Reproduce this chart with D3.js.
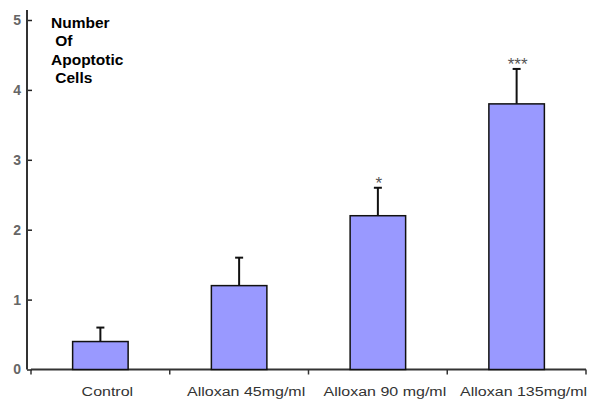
<!DOCTYPE html>
<html>
<head>
<meta charset="utf-8">
<script src="https://cdn.jsdelivr.net/npm/d3@7"></script>
<style>
  body { margin: 0; background: #fff; }
  text { font-family: Arial, "Liberation Sans", sans-serif; }
</style>
</head>
<body>
<div id="chart"></div>
<script>
// Apoptotic cells by alloxan dose
const categories = ["Control", "Alloxan 45mg/ml", "Alloxan 90 mg/ml", "Alloxan 135mg/ml"];
const means = [0.4, 1.2, 2.2, 3.8];
const errors = [0.2, 0.4, 0.4, 0.5];
const marks = ["", "", "*", "***"];
const yTicks = [0, 1, 2, 3, 4, 5];
const titleLines = ["Number", " Of", "Apoptotic", " Cells"];

const width = 605;
const height = 403;

const svg = d3.select("#chart").append("svg")
    .attr("width", width)
    .attr("height", height);

const x = d3.scaleBand()
    .domain(categories)
    .range([31, 586])
    .paddingInner(0.6)
    .paddingOuter(0.3);

const y = d3.scaleLinear()
    .domain([0, 5])
    .range([369.5, 20]);

// y axis, ticks point inward
const yAxis = svg.append("g")
    .attr("transform", "translate(27,0)")
    .call(d3.axisLeft(y).tickValues(yTicks).tickFormat(d3.format("d")).tickSize(-5).tickPadding(6));

yAxis.select(".domain").remove();
yAxis.selectAll(".tick line").attr("stroke", "#222").attr("stroke-width", 1.5);
yAxis.selectAll(".tick text")
    .attr("fill", "#666")
    .style("font-size", "14px")
    .style("font-weight", "bold");

svg.append("line")
    .attr("x1", 27).attr("x2", 27)
    .attr("y1", y(5) - 10).attr("y2", y(0))
    .attr("stroke", "#333")
    .attr("stroke-width", 2);

// x axis with ticks at band edges
const edges = d3.range(categories.length + 1).map(i => x.range()[0] + i * x.step());

svg.append("line")
    .attr("x1", edges[0]).attr("x2", edges[edges.length - 1])
    .attr("y1", y(0)).attr("y2", y(0))
    .attr("stroke", "#333")
    .attr("stroke-width", 2);

svg.selectAll("line.xtick")
    .data(edges)
    .join("line")
    .attr("class", "xtick")
    .attr("x1", d => d).attr("x2", d => d)
    .attr("y1", y(0)).attr("y2", y(0) + 5)
    .attr("stroke", "#333")
    .attr("stroke-width", 1.5);

svg.selectAll("text.xlabel")
    .data(categories)
    .join("text")
    .attr("class", "xlabel")
    .attr("transform", d => `translate(${x(d) + x.bandwidth() / 2 + 7},396) scale(1.28,1)`)
    .attr("text-anchor", "middle")
    .attr("fill", "#333")
    .style("font-size", "12.5px")
    .text(d => d);

// error bars (drawn first so bar outline sits on top)
const data = categories.map((c, i) => ({ c, m: means[i], e: errors[i], mark: marks[i] }));

svg.selectAll("line.err")
    .data(data)
    .join("line")
    .attr("class", "err")
    .attr("x1", d => x(d.c) + x.bandwidth() / 2)
    .attr("x2", d => x(d.c) + x.bandwidth() / 2)
    .attr("y1", d => y(d.m))
    .attr("y2", d => y(d.m + d.e))
    .attr("stroke", "#111")
    .attr("stroke-width", 2);

svg.selectAll("line.cap")
    .data(data)
    .join("line")
    .attr("class", "cap")
    .attr("x1", d => x(d.c) + x.bandwidth() / 2 - 4)
    .attr("x2", d => x(d.c) + x.bandwidth() / 2 + 4)
    .attr("y1", d => y(d.m + d.e))
    .attr("y2", d => y(d.m + d.e))
    .attr("stroke", "#111")
    .attr("stroke-width", 2);

svg.selectAll("rect.bar")
    .data(data)
    .join("rect")
    .attr("class", "bar")
    .attr("x", d => x(d.c))
    .attr("y", d => y(d.m))
    .attr("width", x.bandwidth())
    .attr("height", d => y(0) - y(d.m))
    .attr("fill", "#9999ff")
    .attr("stroke", "#111")
    .attr("stroke-width", 1.5);

svg.selectAll("text.mark")
    .data(data.filter(d => d.mark))
    .join("text")
    .attr("class", "mark")
    .attr("x", d => x(d.c) + x.bandwidth() / 2 + 1)
    .attr("y", d => y(d.m + d.e) + 1)
    .attr("text-anchor", "middle")
    .attr("fill", "#555")
    .style("font-size", "17px")
    .text(d => d.mark);

// axis title block
svg.append("text")
    .attr("fill", "#000")
    .style("font-size", "15.5px")
    .style("font-weight", "bold")
    .selectAll("tspan")
    .data(titleLines)
    .join("tspan")
    .attr("x", 51)
    .attr("y", (d, i) => 28 + i * 18.3)
    .attr("xml:space", "preserve")
    .style("white-space", "pre")
    .text(d => d);
</script>
</body>
</html>
